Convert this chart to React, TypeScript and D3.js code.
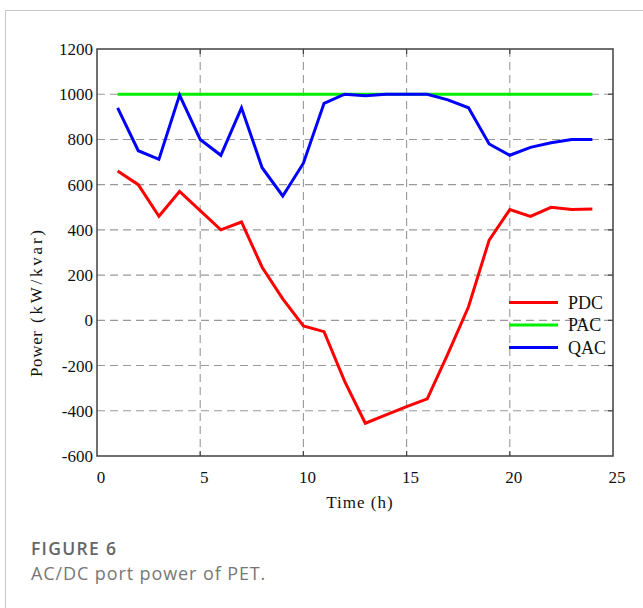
import React from "react";
import * as d3 from "d3";

const hours = [1,2,3,4,5,6,7,8,9,10,11,12,13,14,15,16,17,18,19,20,21,22,23,24];
const pdc = [660,600,460,570,485,400,435,235,95,-25,-50,-270,-455,-418,-382,-347,-148,60,355,490,460,500,490,492];
const pac = [1000,1000,1000,1000,1000,1000,1000,1000,1000,1000,1000,1000,1000,1000,1000,1000,1000,1000,1000,1000,1000,1000,1000,1000];
const qac = [940,750,712,996,800,730,940,675,550,695,960,1000,993,1000,1000,1000,975,940,780,730,765,785,800,800];
const xTicks = [0,5,10,15,20,25];
const yTicks = [-600,-400,-200,0,200,400,600,800,1000,1200];
const seriesNames = ["PDC","PAC","QAC"];
const seriesColors = ["#ff0000","#00ee00","#0000ff"];

const W = 643, H = 608;
const L = 97, R = 613, T = 49, B = 456;
const serif = "'Liberation Serif', 'Times New Roman', serif";
const sans = "'Open Sans', 'Noto Sans', sans-serif";

export default function App() {
  const x = d3.scaleLinear().domain([0, 25]).range([L, R]);
  const y = d3.scaleLinear().domain([-600, 1200]).range([B, T]);
  const line = d3.line<number>().x((_, i) => x(hours[i])).y(d => y(d));
  const series = [pdc, pac, qac];
  const gridY = yTicks.filter(v => v > -600 && v < 1200);
  const gridX = xTicks.filter(v => v > 0 && v < 25);
  return (
    <svg width={W} height={H} style={{ position: "absolute", left: 0, top: 0 }}>
      <rect x={0} y={0} width={W} height={H} fill="#fff" />
      <line x1={5.5} y1={10.5} x2={W} y2={10.5} stroke="#c8c8c8" strokeWidth={1} />
      <line x1={5.5} y1={10.5} x2={5.5} y2={H} stroke="#c8c8c8" strokeWidth={1} />
      {gridY.map(v => (
        <line key={"gy" + v} x1={L} x2={R} y1={y(v)} y2={y(v)} stroke="#999" strokeWidth={1.1} strokeDasharray="8,5" />
      ))}
      {gridX.map(v => (
        <line key={"gx" + v} x1={x(v)} x2={x(v)} y1={T} y2={B} stroke="#999" strokeWidth={1.1} strokeDasharray="8,5" />
      ))}
      {gridY.map(v => (
        <g key={"ty" + v}>
          <line x1={R - 5} x2={R} y1={y(v)} y2={y(v)} stroke="#444" strokeWidth={1.2} />
        </g>
      ))}
      {gridX.map(v => (
        <g key={"tx" + v}>
          <line x1={x(v)} x2={x(v)} y1={T} y2={T + 5} stroke="#444" strokeWidth={1.2} />
          <line x1={x(v)} x2={x(v)} y1={B - 5} y2={B} stroke="#444" strokeWidth={1.2} />
        </g>
      ))}
      {series.map((s, i) => (
        <path key={seriesNames[i]} d={line(s) || ""} fill="none" stroke={seriesColors[i]} strokeWidth={3} strokeLinejoin="miter" />
      ))}
      <rect x={L} y={T} width={R - L} height={B - T} fill="none" stroke="#404040" strokeWidth={1.5} />
      {yTicks.map(v => (
        <text key={"ly" + v} x={93} y={y(v) + 6} textAnchor="end" fontFamily={serif} fontSize={17} fill="#111">{v}</text>
      ))}
      {xTicks.map(v => (
        <text key={"lx" + v} x={x(v) + 4} y={482.5} textAnchor="middle" fontFamily={serif} fontSize={17} fill="#111">{v}</text>
      ))}
      <text x={360} y={507.5} textAnchor="middle" fontFamily={serif} fontSize={17} letterSpacing={1} fill="#111">Time (h)</text>
      <g transform="translate(42,0) rotate(-90)">
        <text x={-354} y={0} textAnchor="middle" fontFamily={serif} fontSize={17} textLength={46} lengthAdjust="spacing" fill="#111">Power</text>
        <text x={-276.5} y={0} textAnchor="middle" fontFamily={serif} fontSize={17} textLength={93} lengthAdjust="spacing" fill="#111">(kW/kvar)</text>
      </g>
      {seriesNames.map((n, i) => (
        <g key={"lg" + n}>
          <line x1={509} x2={558} y1={302.5 + i * 22.5} y2={302.5 + i * 22.5} stroke={seriesColors[i]} strokeWidth={3} />
          <text x={568} y={302.5 + i * 22.5 + 6} fontFamily={serif} fontSize={18} fill="#111">{n}</text>
        </g>
      ))}
      <text x={31} y={555} fontFamily={sans} fontSize={17.5} fontWeight={600} letterSpacing={1.3} fill="#666">FIGURE 6</text>
      <text x={31} y={580} fontFamily={sans} fontSize={18} fontWeight={400} letterSpacing={0.9} fill="#777">AC/DC port power of PET.</text>
    </svg>
  );
}
